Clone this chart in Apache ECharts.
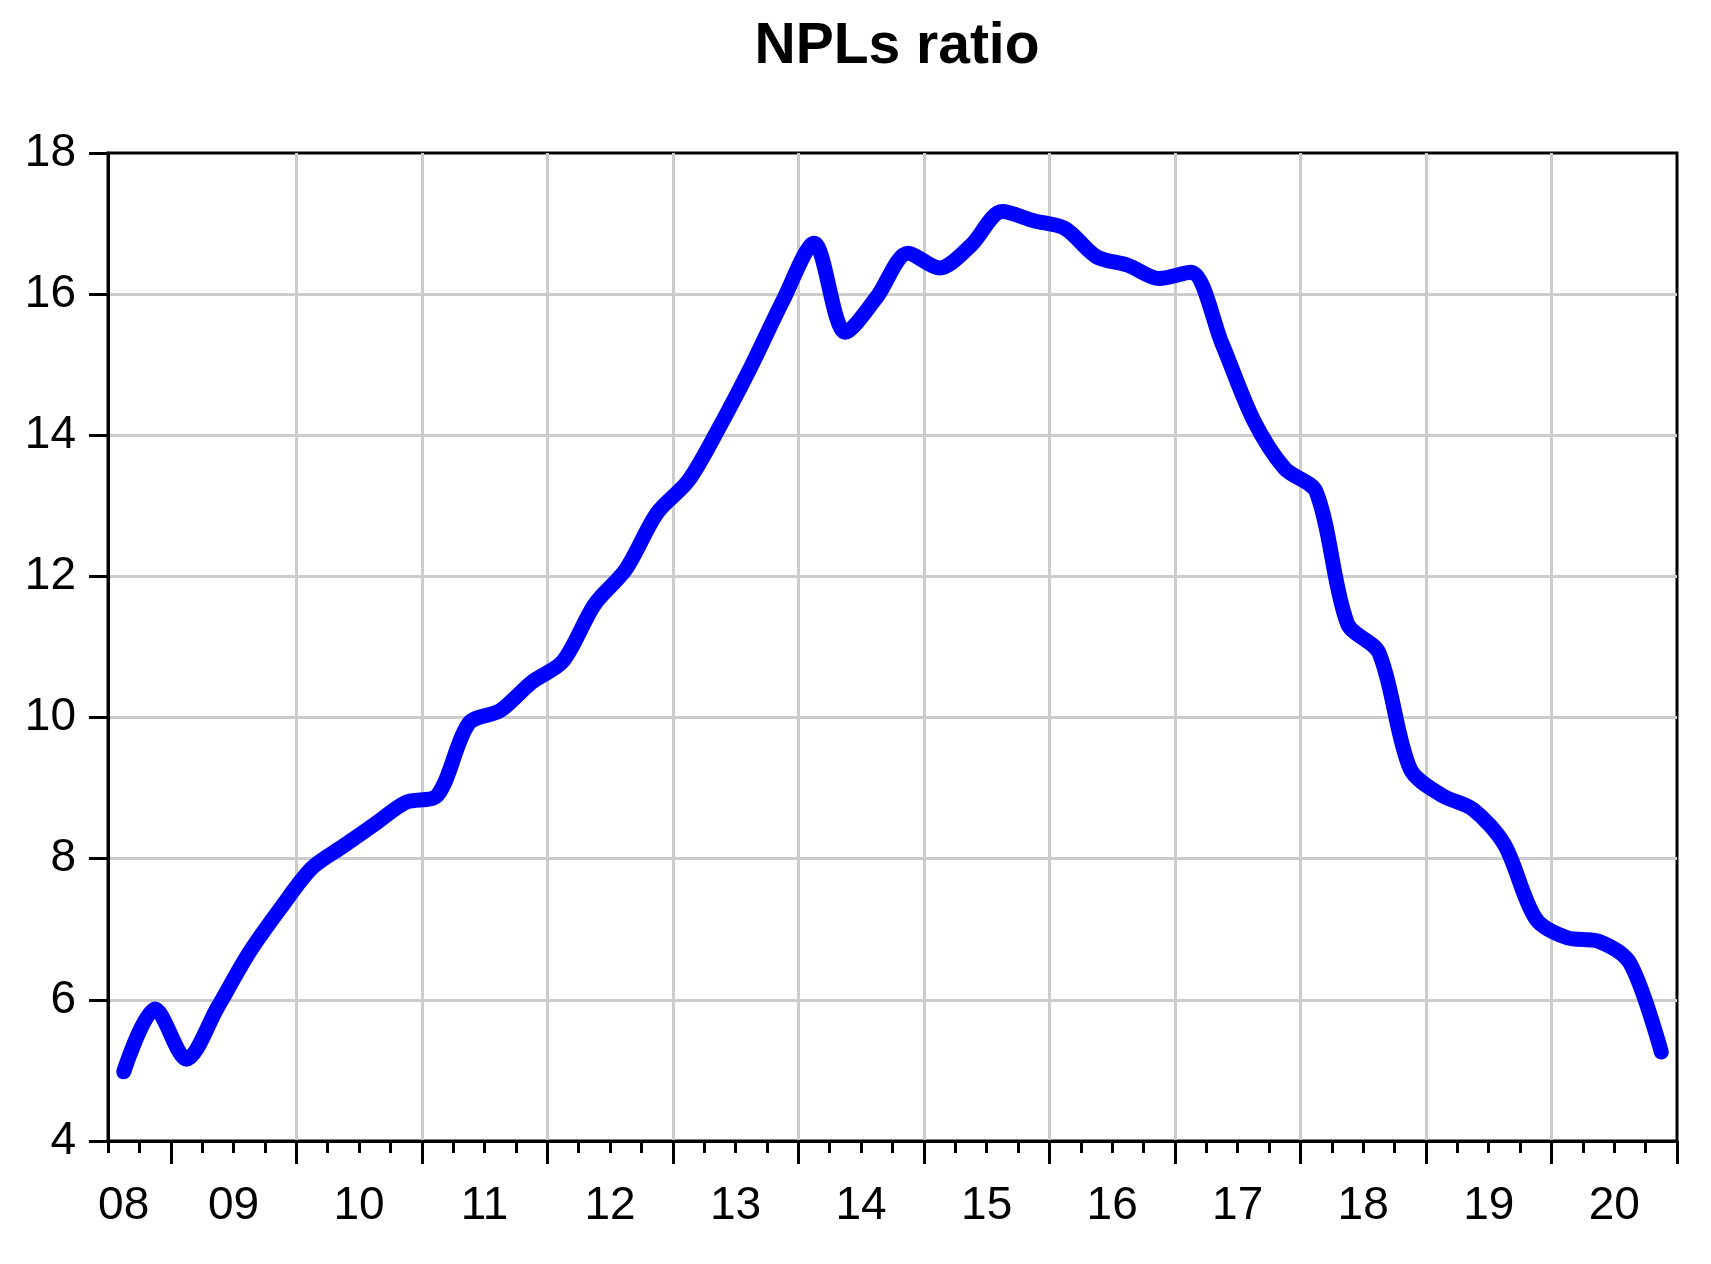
<!DOCTYPE html>
<html>
<head>
<meta charset="utf-8">
<script src="https://cdn.jsdelivr.net/npm/echarts@6/dist/echarts.min.js"></script>
<style>
html,body{margin:0;padding:0;background:#fff}
#chart{width:1711px;height:1264px}
</style>
</head>
<body>
<div id="chart"></div>
<script>
// quarterly NPL ratio, 2008Q3 .. 2020Q4
var quarters = [];
for (var y = 2008; y <= 2020; y++) {
    for (var q = 1; q <= 4; q++) {
        if (y === 2008 && q < 3) continue;
        quarters.push(y + 'Q' + q);
    }
}
var nplRatio = [4.98, 5.87, 5.16, 5.9, 6.67, 7.3, 7.87, 8.18, 8.49, 8.8,
                8.9, 9.92, 10.1, 10.5, 10.8, 11.6, 12.1, 12.9, 13.36, 14.13,
                14.98, 15.9, 16.72, 15.46, 15.96, 16.58, 16.37, 16.69, 17.17, 17.04,
                16.93, 16.53, 16.41, 16.22, 16.31, 15.3, 14.22, 13.53, 13.2, 11.33,
                10.92, 9.27, 8.9, 8.7, 8.2, 7.15, 6.88, 6.83, 6.52, 5.26];
var yearLabels = ['08','09','10','11','12','13','14','15','16','17','18','19','20'];

// x runs in quarters from start of 2008Q3; year boundaries fall on 2, 6, ... 50
var yearTicks = [];
for (var k = 2; k <= 50; k += 4) yearTicks.push(k);
var labelPos = [0.5];
for (var k = 4; k <= 48; k += 4) labelPos.push(k);

var FONT = 'Liberation Sans';

var seriesData = nplRatio.map(function (v, i) {
    return { name: quarters[i], value: [i + 0.5, v] };
});

var chart = echarts.init(document.getElementById('chart'));
var option = {
    animation: false,
    backgroundColor: '#fff',
    title: {
        text: 'NPLs ratio',
        left: 892,
        textAlign: 'center',
        top: 14,
        textStyle: { fontFamily: FONT, fontSize: 57, fontWeight: 'bold', color: '#000' }
    },
    grid: {
        left: 108, right: 34, top: 153, bottom: 123,
        show: true, borderColor: '#000', borderWidth: 3,
        outerBoundsMode: 'none'
    },
    xAxis: [
        {
            type: 'value', min: 0, max: 50, position: 'bottom',
            axisLine: { show: true, onZero: false, lineStyle: { color: '#000', width: 3 } },
            axisTick: { show: true, customValues: yearTicks, length: 23, lineStyle: { color: '#000', width: 3 } },
            splitLine: { show: true, showMinLine: false, showMaxLine: false, lineStyle: { color: '#cccccc', width: 3 } },
            axisLabel: {
                customValues: labelPos,
                margin: 42,
                color: '#000',
                fontFamily: FONT,
                fontSize: 46,
                formatter: function (val) {
                    var idx = labelPos.indexOf(val);
                    return idx >= 0 ? yearLabels[idx] : '';
                }
            }
        },
        {
            // quarter ticks
            type: 'value', min: 0, max: 50, interval: 1, position: 'bottom',
            axisLine: { show: false, onZero: false },
            axisTick: { show: true, length: 12, lineStyle: { color: '#000', width: 3 } },
            splitLine: { show: false },
            axisLabel: { show: false }
        }
    ],
    yAxis: {
        type: 'value', min: 4, max: 18, interval: 2,
        axisLine: { show: true, lineStyle: { color: '#000', width: 3 } },
        axisTick: { show: true, length: 19, lineStyle: { color: '#000', width: 3 } },
        splitLine: { show: true, showMinLine: false, showMaxLine: false, lineStyle: { color: '#cccccc', width: 3 } },
        axisLabel: { margin: 32, color: '#000', fontFamily: FONT, fontSize: 46 }
    },
    series: [{
        name: 'NPLs ratio',
        type: 'line',
        xAxisIndex: 0,
        data: seriesData,
        showSymbol: false,
        symbol: 'none',
        smooth: 0.3,
        lineStyle: { color: '#0000ff', width: 15, cap: 'round', join: 'round' }
    }]
};
chart.setOption(option);
</script>
</body>
</html>
